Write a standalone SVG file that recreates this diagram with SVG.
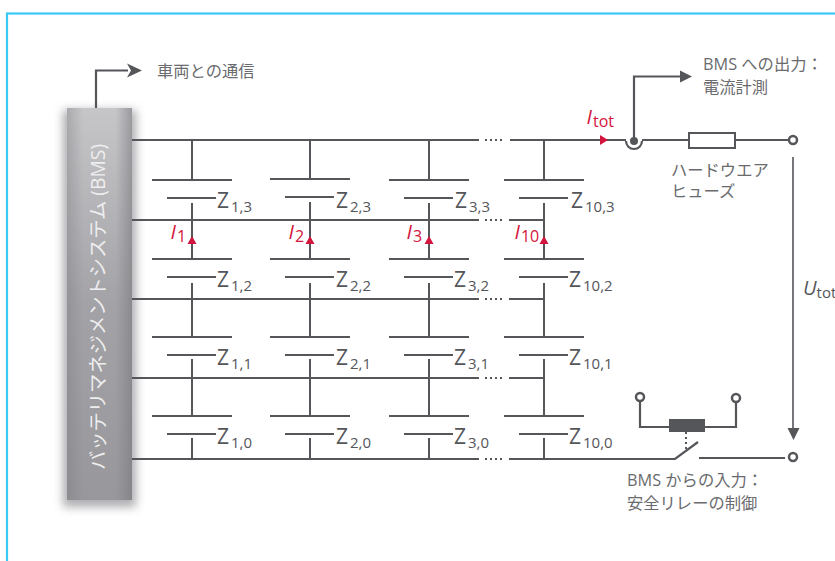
<svg xmlns="http://www.w3.org/2000/svg" width="835" height="561" viewBox="0 0 835 561">
<style>
text{font-family:"Open Sans","Noto Sans CJK JP",sans-serif;fill:#6a6b6e}
.t{font-size:16.300px}
.z{font-size:21px;fill:#55565a}
.s{font-size:15px;fill:#55565a}
.r{fill:#d3143c;font-style:italic;font-size:20px}
.rs{fill:#d3143c;font-style:normal;font-size:16px}
.w{fill:none;stroke:#55565a;stroke-width:2.200}
.h{fill:none;stroke:#55565a;stroke-width:2}
.d{fill:none;stroke:#55565a;stroke-width:2;stroke-dasharray:2 3}
</style>
<defs>
<linearGradient id="g" x1="0" y1="0" x2="0" y2="1"><stop offset="0" stop-color="#c6c5c8"/><stop offset="0.5" stop-color="#a3a2a6"/><stop offset="1" stop-color="#98979b"/></linearGradient>
<linearGradient id="e" x1="0" y1="0" x2="1" y2="0"><stop offset="0" stop-color="#77767b" stop-opacity=".35"/><stop offset="0.25" stop-color="#77767b" stop-opacity="0"/><stop offset="0.75" stop-color="#77767b" stop-opacity="0"/><stop offset="1" stop-color="#77767b" stop-opacity=".55"/></linearGradient>
<filter id="b" x="-30%" y="-10%" width="160%" height="120%"><feGaussianBlur stdDeviation="5"/></filter>
<g id="cell"><path class="h" d="M-40 0H40M-25 18H24"/></g>
</defs>
<rect x="7" y="13.500" width="838" height="570" fill="none" stroke="#3cc8f5" stroke-width="2.200"/>
<g id="bms">
<rect x="63" y="110" width="73" height="397" fill="#77767b" opacity=".6" filter="url(#b)"/>
<rect x="67" y="108" width="65" height="392" fill="url(#g)"/>
<rect x="67" y="108" width="65" height="392" fill="url(#e)"/>
<text transform="translate(105 470) rotate(-90)" font-size="19.300" style="fill:#eeeeef">バッテリマネジメントシステム (BMS)</text>
</g>
<g id="connectors">
<path class="w" d="M132 140H479M510 140H626M132 220H479M509 220H544M132 299H479M509 299H544M132 378H479M509 378H544M132 459H479M509 459H675L698 442M699 458H785M642 140H689M735 140H788"/>
<path class="d" d="M485 140H505M485 220H505M485 299H505M485 378H505M485 459H505"/>
<path class="h" d="M192 140V180M192 203V259M192 283V337M192 359V416M192 438V459M310 140V179M310 202V259M310 283V337M310 359V416M310 438V459M429 140V180M429 203V259M429 283V337M429 359V416M429 438V459M544 140V180M544 203V259M544 283V337M544 359V416M544 438V459"/>
<path class="w" d="M96 108V70.500H128"/>
<path d="M127 63.500L142 70.500L127 77.500L131 70.500Z" fill="#55565a"/>
<path class="w" d="M634 141V76.500H681"/>
<path d="M680 70.500L692 76.500L680 82.500Z" fill="#55565a"/>
<path class="h" d="M793 157V428" style="stroke-width:1.600"/>
<path d="M787.500 428H799.500L793.500 440Z" fill="#55565a"/>
<path class="w" d="M640 401V427H669M736 402V427H705"/>
<path class="d" d="M686 432V449"/>
<path d="M600 135L608 140L600 145Z" fill="#d3143c"/>
</g>
<g id="cells">
<use href="#cell" x="192" y="180"/><use href="#cell" x="192" y="259"/><use href="#cell" x="192" y="337"/><use href="#cell" x="192" y="416"/>
<use href="#cell" x="310" y="179"/><use href="#cell" x="310" y="259"/><use href="#cell" x="310" y="337"/><use href="#cell" x="310" y="416"/>
<use href="#cell" x="429" y="180"/><use href="#cell" x="429" y="259"/><use href="#cell" x="429" y="337"/><use href="#cell" x="429" y="416"/>
<use href="#cell" x="544" y="180"/><use href="#cell" x="544" y="259"/><use href="#cell" x="544" y="337"/><use href="#cell" x="544" y="416"/>
</g>
<g id="labels-z">
<text class="z" x="217" y="208">Z<tspan class="s" dx="2" dy="4">1,3</tspan></text>
<text class="z" x="336" y="208">Z<tspan class="s" dx="2" dy="4">2,3</tspan></text>
<text class="z" x="455" y="208">Z<tspan class="s" dx="2" dy="4">3,3</tspan></text>
<text class="z" x="571" y="208">Z<tspan class="s" dx="2" dy="4">10,3</tspan></text>
<text class="z" x="217" y="287">Z<tspan class="s" dx="2" dy="4">1,2</tspan></text>
<text class="z" x="336" y="287">Z<tspan class="s" dx="2" dy="4">2,2</tspan></text>
<text class="z" x="454" y="287">Z<tspan class="s" dx="2" dy="4">3,2</tspan></text>
<text class="z" x="569" y="287">Z<tspan class="s" dx="2" dy="4">10,2</tspan></text>
<text class="z" x="217" y="365">Z<tspan class="s" dx="2" dy="4">1,1</tspan></text>
<text class="z" x="336" y="365">Z<tspan class="s" dx="2" dy="4">2,1</tspan></text>
<text class="z" x="454" y="365">Z<tspan class="s" dx="2" dy="4">3,1</tspan></text>
<text class="z" x="569" y="365">Z<tspan class="s" dx="2" dy="4">10,1</tspan></text>
<text class="z" x="217" y="444">Z<tspan class="s" dx="2" dy="4">1,0</tspan></text>
<text class="z" x="336" y="444">Z<tspan class="s" dx="2" dy="4">2,0</tspan></text>
<text class="z" x="454" y="444">Z<tspan class="s" dx="2" dy="4">3,0</tspan></text>
<text class="z" x="569" y="444">Z<tspan class="s" dx="2" dy="4">10,0</tspan></text>
</g>
<g id="currents">
<path d="M192 236L196.500 244H187.500ZM310 236L314.500 244H305.500ZM429 236L433.500 244H424.500ZM544 236L548.500 244H539.500Z" fill="#d3143c"/>
<text class="r" x="170.500" y="239">I<tspan class="rs" dx="1" dy="3">1</tspan></text>
<text class="r" x="288.500" y="239">I<tspan class="rs" dx="1" dy="3">2</tspan></text>
<text class="r" x="406.500" y="239">I<tspan class="rs" dx="1" dy="3">3</tspan></text>
<text class="r" x="514.500" y="239">I<tspan class="rs" dx="1" dy="3">10</tspan></text>
<text class="r" x="586.500" y="124">I<tspan class="rs" dx="1" dy="3">tot</tspan></text>
</g>
<g id="junction">
<path d="M626 141A8 8 0 0 0 642 141" fill="none" stroke="#55565a" stroke-width="2.200"/>
<circle cx="634" cy="141" r="4" fill="#55565a"/>
</g>
<g id="fuse"><rect x="689" y="133" width="46" height="15" fill="#fff" stroke="#55565a" stroke-width="2"/></g>
<g id="term1"><circle cx="793" cy="140" r="4" fill="#fff" stroke="#55565a" stroke-width="2.500"/></g>
<g id="term2"><circle cx="793" cy="457" r="4" fill="#fff" stroke="#55565a" stroke-width="2.500"/></g>
<g id="term3"><circle cx="640" cy="397" r="4" fill="#fff" stroke="#55565a" stroke-width="2.500"/></g>
<g id="term4"><circle cx="736" cy="398" r="4" fill="#fff" stroke="#55565a" stroke-width="2.500"/></g>
<g id="relay"><rect x="669" y="419" width="36" height="13" fill="#54565a"/></g>
<g id="texts">
<text class="t" x="157" y="77">車両との通信</text>
<text class="t" x="703" y="70">BMS への出力：</text>
<text class="t" x="703" y="93">電流計測</text>
<text class="t" x="671" y="176">ハードウエア</text>
<text class="t" x="671" y="197">ヒューズ</text>
<text class="t" x="627" y="486">BMS からの入力：</text>
<text class="t" x="627" y="509">安全リレーの制御</text>
<text x="803" y="295" font-size="20" font-style="italic" style="fill:#55565a">U<tspan font-style="normal" font-size="15" dx="0" dy="3">tot</tspan></text>
</g>
</svg>
